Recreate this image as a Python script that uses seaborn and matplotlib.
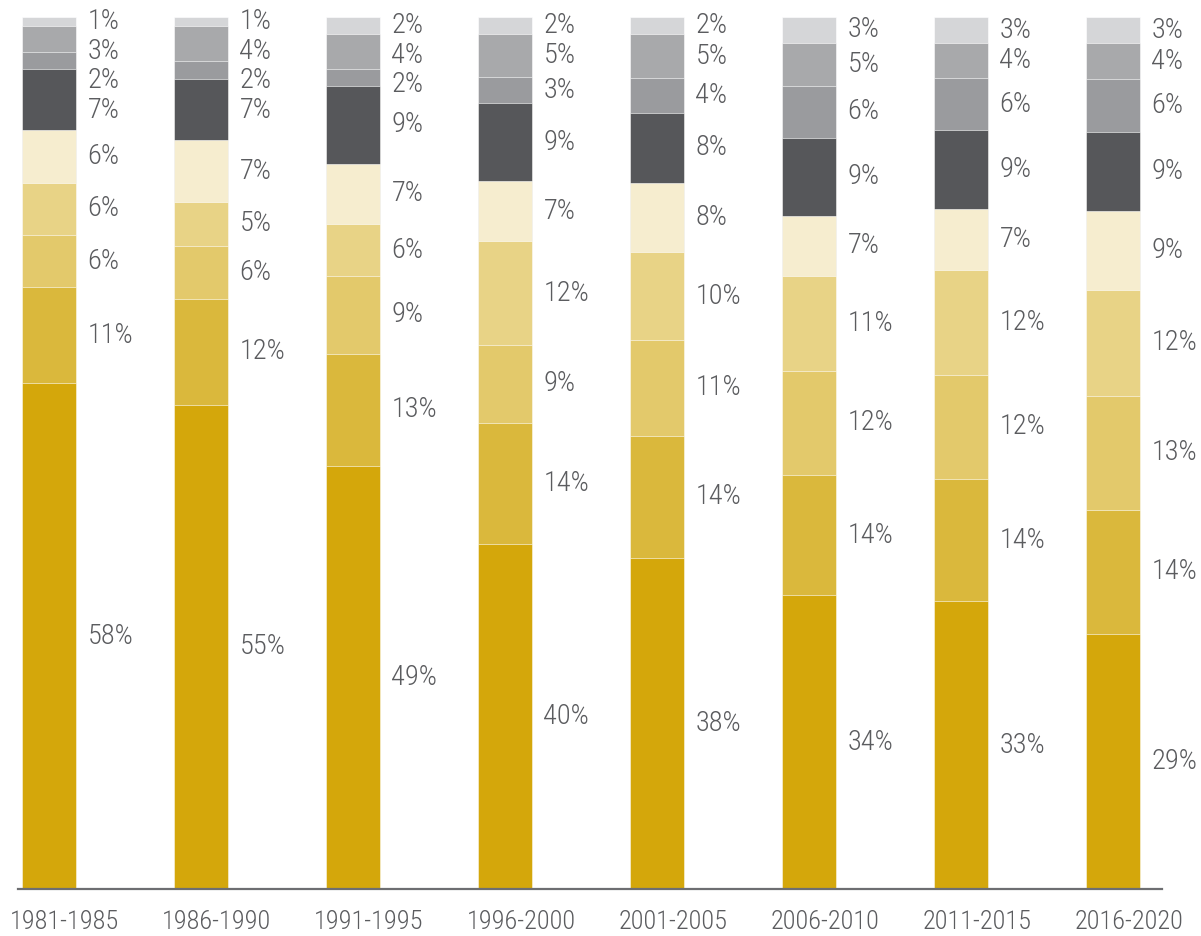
import numpy as np
import pandas as pd
import matplotlib
matplotlib.use("Agg")
import matplotlib.pyplot as plt
import matplotlib.font_manager as fm
import matplotlib.transforms as mtransforms
import seaborn as sns

# 期間ラベル
periods = ["1981-1985", "1986-1990", "1991-1995", "1996-2000",
           "2001-2005", "2006-2010", "2011-2015", "2016-2020"]

# 各セグメントの値（下から上へ）
seg1 = [58, 55, 49, 40, 38, 34, 33, 29]
seg2 = [11, 12, 13, 14, 14, 14, 14, 14]
seg3 = [6, 6, 9, 9, 11, 12, 12, 13]
seg4 = [6, 5, 6, 12, 10, 11, 12, 12]
seg5 = [6, 7, 7, 7, 8, 7, 7, 9]
seg6 = [7, 7, 9, 9, 8, 9, 9, 9]
seg7 = [2, 2, 2, 3, 4, 6, 6, 6]
seg8 = [3, 4, 4, 5, 5, 5, 4, 4]
seg9 = [1, 1, 2, 2, 2, 3, 3, 3]

segments = [seg1, seg2, seg3, seg4, seg5, seg6, seg7, seg8, seg9]
colors = ["#D4A70B", "#DAB83C", "#E3C96B", "#E8D386", "#F6EDCF",
          "#56575A", "#9A9B9E", "#A8A9AB", "#D5D6D8"]

vals = np.array(segments, dtype=float)          # shape (9, 8)
totals = vals.sum(axis=0)
shares = vals / totals * 100                     # 100%に正規化
cum = np.cumsum(shares, axis=0)

sns.set_style("white")
plt.rcParams["font.family"] = ["Open Sans", "DejaVu Sans"]

# 細い（condensed）フォントがあれば使う（Light優先）
def find_narrow():
    prefs = ["Roboto Condensed", "Liberation Sans Narrow", "Open Sans Condensed"]
    fonts = fm.fontManager.ttflist
    for p in prefs:
        for w in (300, 400):
            for f in fonts:
                if f.name == p and f.style == "normal" and f.weight == w:
                    return f.fname
    return None

narrow = find_narrow()
if narrow:
    lab_fp = fm.FontProperties(fname=narrow, size=20.5)
    tick_fp = fm.FontProperties(fname=narrow, size=19)
else:
    lab_fp = fm.FontProperties(family=["Open Sans", "DejaVu Sans"], size=18)
    tick_fp = fm.FontProperties(family=["Open Sans", "DejaVu Sans"], size=17)

fig = plt.figure(figsize=(12.01, 9.36), dpi=100)
ax = fig.add_axes([18 / 1201, 1 - 889 / 936, 1144 / 1201, 872 / 936])

bar_w = 0.355
# 上のセグメントから順に累積値を重ね描き
for k in range(len(segments) - 1, -1, -1):
    df = pd.DataFrame({"period": periods, "cum": cum[k]})
    sns.barplot(data=df, x="period", y="cum", color=colors[k], width=bar_w,
                saturation=1, ax=ax, edgecolor="white", linewidth=0.4)

# ラベル（重なり回避しつつ右側に配置）
text_color = "#5B5C5F"
gap = 3.4
for i in range(len(periods)):
    centers = cum[:, i] - shares[:, i] / 2
    ys = np.zeros(len(segments))
    prev = None
    for k in range(len(segments) - 1, -1, -1):
        y = centers[k]
        if prev is not None:
            y = min(y, prev - gap)
        ys[k] = y
        prev = y
    for k in range(len(segments)):
        ax.text(i + bar_w / 2 + 0.075, ys[k], f"{segments[k][i]}%",
                ha="left", va="center", fontproperties=lab_fp, color=text_color)

ax.set_xlim(-31 / 152, -31 / 152 + 1144 / 152)
ax.set_ylim(0, 100)
ax.set_xlabel("")
ax.set_ylabel("")
ax.set_yticks([])
sns.despine(ax=ax, left=True)
ax.spines["bottom"].set_color("#6D6E71")
ax.spines["bottom"].set_linewidth(1.6)
ax.tick_params(axis="x", length=0, pad=15, labelcolor=text_color)
# 目盛りラベルは棒の中心より少し右にずれている
offset = mtransforms.ScaledTranslation(16 / 100, 0, fig.dpi_scale_trans)
for t in ax.get_xticklabels():
    t.set_fontproperties(tick_fp)
    t.set_transform(t.get_transform() + offset)

fig.savefig("out.png", dpi=100)
